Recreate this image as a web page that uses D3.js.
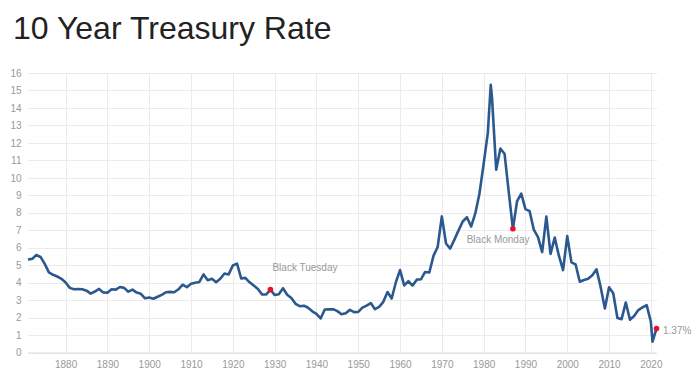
<!DOCTYPE html>
<html>
<head>
<meta charset="utf-8">
<script src="https://cdn.jsdelivr.net/npm/d3@7/dist/d3.min.js"></script>
<style>
body { margin: 0; background: #fff; }
text { font-family: "Liberation Sans", Arial, sans-serif; }
.grid line { stroke: #ebebeb; shape-rendering: crispEdges; }
.grid text { fill: #999; font-size: 10px; }
</style>
</head>
<body>
<script>
// annual 10 year rate (january), plus the 1981 peak, the 2020 low and the current value
var years = [
  1871, 1872, 1873, 1874, 1875, 1876, 1877, 1878, 1879, 1880,
  1881, 1882, 1883, 1884, 1885, 1886, 1887, 1888, 1889, 1890,
  1891, 1892, 1893, 1894, 1895, 1896, 1897, 1898, 1899, 1900,
  1901, 1902, 1903, 1904, 1905, 1906, 1907, 1908, 1909, 1910,
  1911, 1912, 1913, 1914, 1915, 1916, 1917, 1918, 1919, 1920,
  1921, 1922, 1923, 1924, 1925, 1926, 1927, 1928, 1929, 1930,
  1931, 1932, 1933, 1934, 1935, 1936, 1937, 1938, 1939, 1940,
  1941, 1942, 1943, 1944, 1945, 1946, 1947, 1948, 1949, 1950,
  1951, 1952, 1953, 1954, 1955, 1956, 1957, 1958, 1959, 1960,
  1961, 1962, 1963, 1964, 1965, 1966, 1967, 1968, 1969, 1970,
  1971, 1972, 1973, 1974, 1975, 1976, 1977, 1978, 1979, 1980,
  1981, 1981.7, 1982, 1983, 1984, 1985, 1986, 1987, 1988, 1989, 1990,
  1991, 1992, 1993, 1994, 1995, 1996, 1997, 1998, 1999, 2000,
  2001, 2002, 2003, 2004, 2005, 2006, 2007, 2008, 2009, 2010,
  2011, 2012, 2013, 2014, 2015, 2016, 2017, 2018, 2019, 2020,
  2020.4, 2021.35
];

var rates = [
  5.32, 5.36, 5.58, 5.47, 5.07, 4.59, 4.45, 4.35, 4.22, 4.01,
  3.70, 3.62, 3.63, 3.62, 3.54, 3.37, 3.49, 3.64, 3.44, 3.42,
  3.62, 3.60, 3.75, 3.70, 3.48, 3.60, 3.43, 3.36, 3.10, 3.15,
  3.08, 3.19, 3.30, 3.45, 3.47, 3.45, 3.62, 3.88, 3.74, 3.93,
  3.99, 4.04, 4.47, 4.14, 4.22, 4.02, 4.22, 4.52, 4.47, 4.98,
  5.09, 4.24, 4.27, 4.02, 3.83, 3.64, 3.32, 3.33, 3.60, 3.29,
  3.34, 3.68, 3.31, 3.12, 2.79, 2.65, 2.68, 2.56, 2.36, 2.21,
  1.95, 2.46, 2.47, 2.48, 2.37, 2.19, 2.25, 2.44, 2.31, 2.32,
  2.57, 2.68, 2.83, 2.48, 2.61, 2.90, 3.46, 3.09, 4.02, 4.72,
  3.84, 4.08, 3.83, 4.17, 4.19, 4.61, 4.58, 5.53, 6.04, 7.79,
  6.24, 5.95, 6.46, 6.99, 7.50, 7.74, 7.21, 7.96, 9.10, 10.80,
  12.57, 15.32, 14.59, 10.46, 11.67, 11.38, 9.19, 7.08, 8.67, 9.09, 8.21,
  8.09, 7.03, 6.60, 5.75, 7.78, 5.65, 6.58, 5.54, 4.72, 6.66,
  5.16, 5.04, 4.05, 4.15, 4.22, 4.42, 4.76, 3.74, 2.52, 3.73,
  3.39, 1.97, 1.91, 2.86, 1.88, 2.09, 2.43, 2.58, 2.71, 1.76,
  0.62, 1.37
];

var xTicks = [1880, 1890, 1900, 1910, 1920, 1930, 1940, 1950, 1960, 1970, 1980, 1990, 2000, 2010, 2020];
var yTicks = [0, 1, 2, 3, 4, 5, 6, 7, 8, 9, 10, 11, 12, 13, 14, 15, 16];

var events = ["Black Tuesday", "Black Monday"];
var eventYears = [1929, 1987];

var data = years.map(function(d, i) { return [d, rates[i]]; });

var margin = {top: 73, right: 41.5, bottom: 27.5, left: 28},
  width = 698 - margin.left - margin.right,
  height = 380 - margin.top - margin.bottom;

var x = d3.scaleLinear().domain([years[0], years[years.length - 1]]).range([0, width]);
var y = d3.scaleLinear().domain([0, 16]).range([height, 0]);

var root = d3.select("body").append("svg")
  .attr("width", 698)
  .attr("height", 380);

root.append("text")
  .attr("x", 13)
  .attr("y", 39)
  .style("font-size", "32px")
  .style("fill", "#222")
  .text("10 Year Treasury Rate");

var svg = root.append("g")
  .attr("transform", "translate(" + margin.left + "," + margin.top + ")");

// horizontal grid + y labels
svg.append("g")
  .attr("class", "grid")
  .call(d3.axisLeft(y).tickValues(yTicks).tickSize(-width).tickPadding(6.5))
  .call(function(g) { g.select(".domain").remove(); });

// vertical grid + x labels
svg.append("g")
  .attr("class", "grid")
  .attr("transform", "translate(0," + height + ")")
  .call(d3.axisBottom(x).tickValues(xTicks).tickFormat(d3.format("d")).tickSize(-height).tickPadding(8))
  .call(function(g) { g.select(".domain").remove(); });

svg.append("line")
  .attr("x1", 0)
  .attr("x2", width)
  .attr("y1", height + 0.5)
  .attr("y2", height + 0.5)
  .style("stroke", "#ddd");

var line = d3.line()
  .x(function(d) { return x(d[0]); })
  .y(function(d) { return y(d[1]); });

svg.append("path")
  .datum(data)
  .attr("d", line)
  .style("fill", "none")
  .style("stroke", "#2c5890")
  .style("stroke-width", 2.6)
  .style("stroke-linejoin", "round");

var marks = eventYears.map(function(yr) {
  return data.filter(function(d) { return d[0] === yr; })[0];
});
var last = data[data.length - 1];

svg.selectAll("circle")
  .data(marks.concat([last]))
  .enter().append("circle")
  .attr("cx", function(d) { return x(d[0]); })
  .attr("cy", function(d) { return y(d[1]); })
  .attr("r", 2.8)
  .style("fill", "#e8102a");

// Black Tuesday sits above, Black Monday below its point
svg.append("text")
  .attr("x", x(marks[0][0]) + 2)
  .attr("y", y(marks[0][1]) - 18.6)
  .style("font-size", "10px")
  .style("fill", "#999")
  .text(events[0]);

svg.append("text")
  .attr("x", x(marks[1][0]) - 14.8)
  .attr("y", y(marks[1][1]) + 14)
  .attr("text-anchor", "middle")
  .style("font-size", "10px")
  .style("fill", "#999")
  .text(events[1]);

svg.append("text")
  .attr("x", x(last[0]) + 6.5)
  .attr("y", y(last[1]) + 5)
  .style("font-size", "10px")
  .style("fill", "#999")
  .text(d3.format(".2f")(last[1]) + "%");
</script>
</body>
</html>
